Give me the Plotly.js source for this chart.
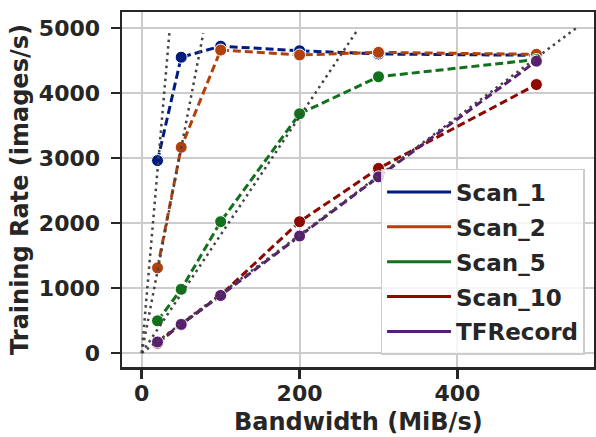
<!DOCTYPE html>
<html><head><meta charset="utf-8">
<script src="https://cdn.plot.ly/plotly-3.0.1.min.js"></script>
<style>html,body{margin:0;padding:0;background:#fff}#chart{width:596px;height:437px}</style>
</head><body><div id="chart"></div>
<script>
const bandwidth = [20, 50, 100, 200, 300, 500];
const seriesNames = ["Scan_1", "Scan_2", "Scan_5", "Scan_10", "TFRecord"];
const scan1 = [2960, 4550, 4720, 4650, 4600, 4580];
const scan2 = [1310, 3165, 4660, 4585, 4625, 4595];
const scan5 = [495, 980, 2020, 3680, 4250, 4515];
const scan10 = [150, 445, 890, 2020, 2840, 4130];
const tfrecord = [170, 440, 885, 1800, 2710, 4490];
// ideal (bandwidth-bound) reference lines: start and end points
const idealX = [[0, 35], [0, 78], [0, 272], [0, 550]];
const idealY = [[0, 4920], [0, 4920], [0, 4945], [0, 4995]];
const xTicks = [0, 200, 400];
const yTicks = [0, 1000, 2000, 3000, 4000, 5000];
const xTitle = "Bandwidth (MiB/s)";
const yTitle = "Training Rate (images/s)";

const colors = ["#001c7f", "#b1400d", "#12711c", "#8c0800", "#591e71"];
const allY = [scan1, scan2, scan5, scan10, tfrecord];
const textColor = "#262626";
const tickFont = {family: "DejaVu Sans", size: 22, color: textColor, weight: 700};
const titleFont = {family: "DejaVu Sans", size: 24, color: textColor, weight: 700};
const legendFont = {family: "DejaVu Sans", size: 23, color: textColor, weight: 700};

const traces = [];
allY.forEach((ys, i) => {
  traces.push({
    x: bandwidth, y: ys, type: "scatter", mode: "lines+markers",
    name: seriesNames[i], showlegend: false,
    line: {color: colors[i], width: 3, dash: "8px,4px"},
    marker: {color: colors[i], size: 12, line: {color: "#ffffff", width: 1}}
  });
});
idealX.forEach((xs, i) => {
  traces.push({
    x: xs, y: idealY[i], type: "scatter", mode: "lines", showlegend: false,
    hoverinfo: "skip",
    line: {color: "#444444", width: 2.5, dash: "2.5px,4px"}
  });
});
seriesNames.forEach((n, i) => {
  traces.push({
    x: [null], y: [null], type: "scatter", mode: "lines", name: n,
    legendgroup: "g" + i,
    line: {color: colors[i], width: 3}
  });
});

const axisCommon = {
  showline: true, mirror: true, linecolor: "#262626", linewidth: 2.5,
  showgrid: true, gridcolor: "#cccccc", gridwidth: 2,
  ticks: "outside", ticklen: 9, tickwidth: 2.5, tickcolor: "#262626",
  tickfont: tickFont, zeroline: false
};

const layout = {
  width: 596, height: 437,
  margin: {l: 122, r: 2, t: 12, b: 70},
  paper_bgcolor: "#ffffff", plot_bgcolor: "#ffffff",
  font: tickFont,
  xaxis: Object.assign({}, axisCommon, {
    range: [-25, 573], tickvals: xTicks, ticktext: xTicks.map(String),
    ticklabelstandoff: -4
  }),
  yaxis: Object.assign({}, axisCommon, {
    range: [-215, 5246], tickvals: yTicks, ticktext: yTicks.map(String),
    ticklabelstandoff: 6,
    title: {text: yTitle, font: titleFont, standoff: 4}
  }),
  annotations: [{
    text: xTitle, xref: "paper", yref: "paper", x: 0.5, y: -0.1965,
    xanchor: "center", yanchor: "bottom", showarrow: false,
    font: titleFont, borderpad: 0
  }],
  legend: {
    x: 0.98, xanchor: "right", y: 0.034, yanchor: "bottom",
    bgcolor: "rgba(255,255,255,0.8)", bordercolor: "#cccccc", borderwidth: 1.5,
    font: legendFont, itemwidth: 64, tracegroupgap: 2
  },
  showlegend: true
};

Plotly.newPlot("chart", traces, layout, {displayModeBar: false, staticPlot: true});
</script>
</body></html>
